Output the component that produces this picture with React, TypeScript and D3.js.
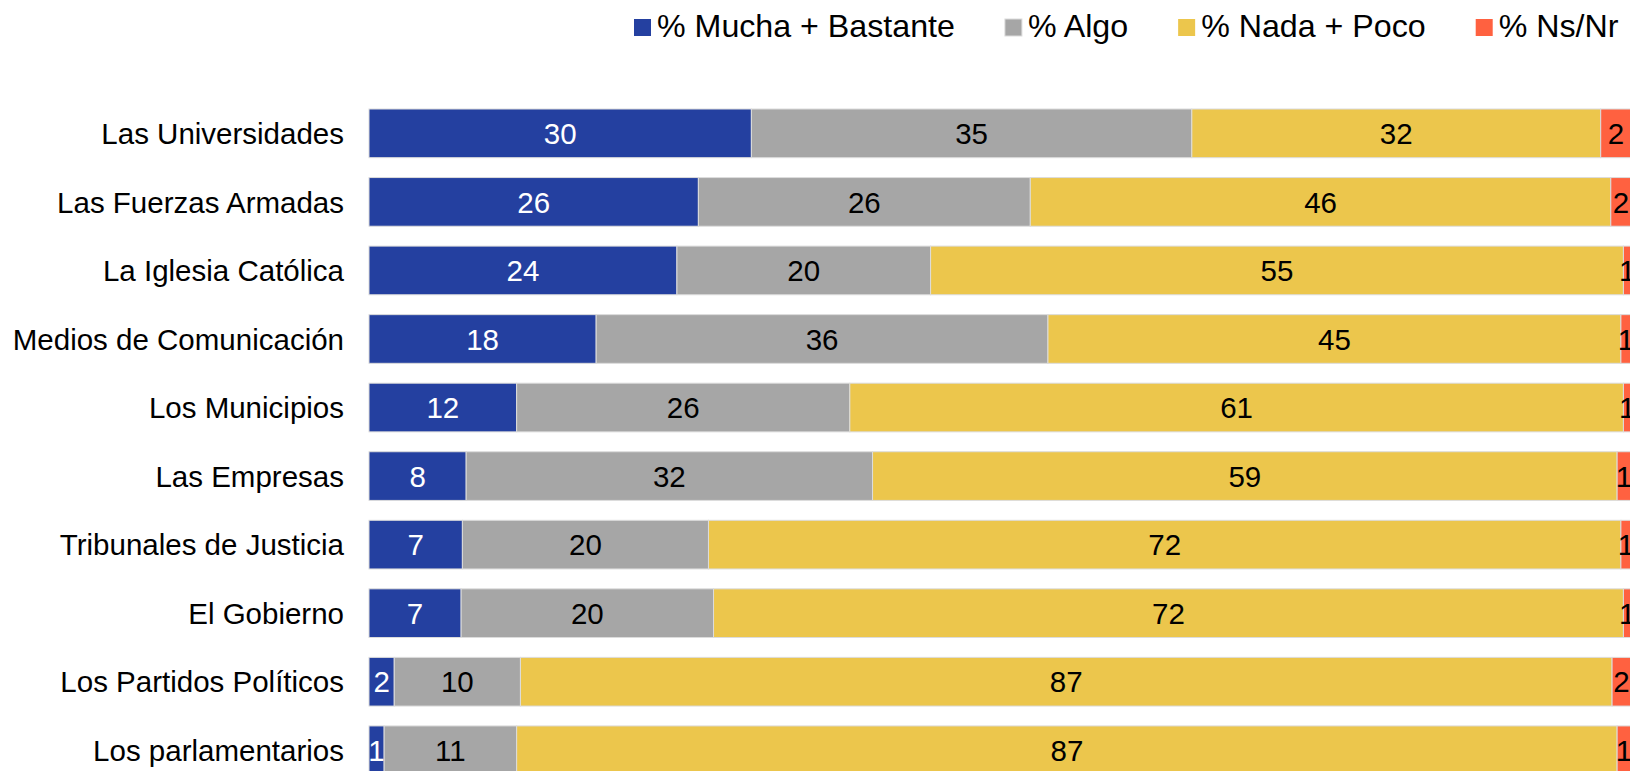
import React, { useEffect, useRef } from "react";
import * as d3 from "d3";

const categories = [
  "Las Universidades",
  "Las Fuerzas Armadas",
  "La Iglesia Católica",
  "Medios de Comunicación",
  "Los Municipios",
  "Las Empresas",
  "Tribunales de Justicia",
  "El Gobierno",
  "Los Partidos Políticos",
  "Los parlamentarios",
];

const seriesNames = ["% Mucha + Bastante", "% Algo", "% Nada + Poco", "% Ns/Nr"];
const seriesColors = ["#2440A0", "#A6A6A6", "#ECC64C", "#FF6140"];
const labelColors = ["#FFFFFF", "#000000", "#000000", "#000000"];

// bar lengths
const muchaBastante = [30.3, 26.1, 24.4, 18.0, 11.7, 7.7, 7.4, 7.3, 2.0, 1.2];
const algo = [34.9, 26.3, 20.1, 35.8, 26.4, 32.2, 19.5, 20.0, 10.0, 10.5];
const nadaPoco = [32.4, 46.0, 54.9, 45.4, 61.3, 59.0, 72.3, 72.1, 86.5, 87.2];
const nsNr = [2.4, 1.6, 0.6, 0.8, 0.6, 1.1, 0.8, 0.6, 1.5, 1.1];

// printed labels
const muchaBastanteLabels = [30, 26, 24, 18, 12, 8, 7, 7, 2, 1];
const algoLabels = [35, 26, 20, 36, 26, 32, 20, 20, 10, 11];
const nadaPocoLabels = [32, 46, 55, 45, 61, 59, 72, 72, 87, 87];
const nsNrLabels = [2, 2, 1, 1, 1, 1, 1, 1, 2, 1];

const W = 1630;
const H = 771;
const FONT = "'Liberation Sans', Arial, Helvetica, sans-serif";

export default function App() {
  const ref = useRef<SVGSVGElement>(null);

  useEffect(() => {
    const svg = d3.select(ref.current);
    svg.selectAll("*").remove();

    const values = [muchaBastante, algo, nadaPoco, nsNr];
    const labels = [muchaBastanteLabels, algoLabels, nadaPocoLabels, nsNrLabels];

    const x = d3.scaleLinear().domain([0, 100]).range([369, 1631]);
    const y = d3
      .scaleBand<string>()
      .domain(categories)
      .range([109, 774.6])
      .paddingInner(0.29)
      .paddingOuter(0);

    const rows = categories.map((c, i) => {
      let acc = 0;
      return values.map((s, k) => {
        const start = acc;
        acc += s[i];
        return { cat: c, k, start, end: acc, label: labels[k][i] };
      });
    });

    const g = svg.append("g");
    rows.forEach((segs) => {
      segs.forEach((d) => {
        g.append("rect")
          .attr("x", x(d.start))
          .attr("y", y(d.cat)!)
          .attr("width", x(d.end) - x(d.start))
          .attr("height", y.bandwidth())
          .attr("fill", seriesColors[d.k])
          .attr("stroke", "#DCDCDC")
          .attr("stroke-width", 1);
      });
    });
    rows.forEach((segs) => {
      segs.forEach((d) => {
        g.append("text")
          .attr("x", (x(d.start) + x(d.end)) / 2)
          .attr("y", y(d.cat)! + y.bandwidth() / 2)
          .attr("dy", "0.36em")
          .attr("text-anchor", "middle")
          .attr("font-family", FONT)
          .attr("font-size", 29.5)
          .attr("fill", labelColors[d.k])
          .text(String(d.label));
      });
    });

    // category axis labels
    svg
      .append("g")
      .selectAll("text")
      .data(categories)
      .join("text")
      .attr("x", 344)
      .attr("y", (d) => y(d)! + y.bandwidth() / 2)
      .attr("dy", "0.36em")
      .attr("text-anchor", "end")
      .attr("font-family", FONT)
      .attr("font-size", 29.5)
      .attr("fill", "#000")
      .text((d) => d);

    // legend
    const lg = svg.append("g");
    let lx = 634;
    seriesNames.forEach((name, k) => {
      lg.append("rect")
        .attr("x", lx)
        .attr("y", 19)
        .attr("width", 17)
        .attr("height", 17)
        .attr("fill", seriesColors[k])
        .attr("stroke", k === 1 ? "#DCDCDC" : "none")
        .attr("stroke-width", 1);
      const t = lg
        .append("text")
        .attr("x", lx + 23)
        .attr("y", 37)
        .attr("font-family", FONT)
        .attr("font-size", 32.2)
        .attr("fill", "#000")
        .text(name);
      const tw = (t.node() as SVGTextElement).getComputedTextLength();
      lx = lx + 23 + tw + 50;
    });
  }, []);

  return (
    <svg
      ref={ref}
      width={W}
      height={H}
      style={{ position: "absolute", left: 0, top: 0, background: "#fff" }}
    />
  );
}
